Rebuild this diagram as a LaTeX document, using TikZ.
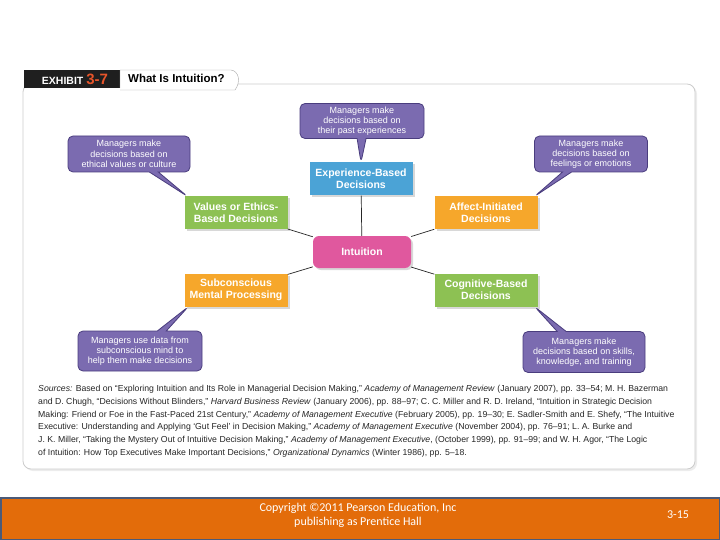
\documentclass[tikz,border=0pt]{standalone}
\usepackage{fontspec}
\setmainfont{Liberation Sans}
\newfontfamily\slidefont{Carlito}
\usetikzlibrary{positioning,shapes.callouts,shadows}
\definecolor{ExBlue}{HTML}{4BA3D6}
\definecolor{ExGreen}{HTML}{8DC153}
\definecolor{ExOrange}{HTML}{F6A72B}
\definecolor{ExPink}{HTML}{E0589E}
\definecolor{NotePurple}{HTML}{7B6BB0}
\definecolor{NoteEdge}{HTML}{4A3D7E}
\definecolor{ExRed}{HTML}{E8552A}
\definecolor{SlideOrange}{HTML}{E36C0A}
\definecolor{SlideEdge}{HTML}{4B5A78}

\begin{document}
\begin{tikzpicture}[x=1pt,y=-1pt,
idea/.style={rectangle,fill=#1,text=white,align=center,minimum width=103pt,minimum height=33pt,inner sep=1pt,font=\bfseries\fontsize{10.5}{12}\selectfont,drop shadow={opacity=0.3,shadow xshift=2pt,shadow yshift=-2pt}},
note/.style={rectangle callout,rounded corners=5pt,draw=NoteEdge,line width=0.8pt,fill=NotePurple,text=white,align=center,inner sep=1pt,minimum width=122pt,minimum height=36pt,callout pointer width=9pt,font=\fontsize{9}{10.3}\selectfont},
link/.style={draw=black!85,line width=0.7pt}]
\useasboundingbox (0,0) rectangle (720,540);
% panel
\draw[draw=black!20,line width=0.8pt,fill=white,rounded corners=8pt,drop shadow={opacity=0.15,shadow xshift=2pt,shadow yshift=-2pt}] (23,84) rectangle (695,469);
\fill[black!88] (24,70) rectangle (120,88);
\draw[draw=black!35,fill=white] (120,88) -- (120,70) -- (231,70) .. controls (239,71) and (241,82) .. (235,90) -- (120,90);
\node[text=white,font=\bfseries\fontsize{10.5}{11}\selectfont,inner sep=0pt] (exh) at (75,79) {EXHIBIT \textcolor{ExRed}{\fontsize{15}{16}\selectfont 3-7}};
\node[font=\bfseries\fontsize{11.5}{12}\selectfont,anchor=west,inner sep=0pt] (ttl) at (128,78) {What Is Intuition?};
% boxes
\node[idea=ExPink,rounded corners=6pt,minimum width=98pt,minimum height=32pt] (int) at (362,252) {Intuition};
\node[idea=ExBlue] (exp) at (361,179) {Experience-Based\\Decisions};
\node[idea=ExGreen] (val) at (236,213) {Values or Ethics-\\Based Decisions};
\node[idea=ExOrange] (aff) at (486,213) {Affect-Initiated\\Decisions};
\node[idea=ExOrange] (sub) at (236,290) {Subconscious\\Mental Processing};
\node[idea=ExGreen] (cog) at (486,290) {Cognitive-Based\\Decisions};
\foreach \x in {exp,val,aff,sub,cog}{\draw[link] (int)--(\x);}
% callouts
\node[note,minimum width=124pt,minimum height=35pt,callout absolute pointer={(exp.north)}] (past) at (362,121) {Managers make\\decisions based on\\their past experiences};
\node[note,callout absolute pointer={([xshift=3pt]val.north west)}] (ethic) at (129,154) {Managers make\\decisions based on\\ethical values or culture};
\node[note,minimum width=113pt,callout absolute pointer={([xshift=-3pt]aff.north east)}] (feel) at (591,154) {Managers make\\decisions based on\\feelings or emotions};
\node[note,minimum width=124pt,minimum height=40pt,callout absolute pointer={([xshift=4pt]sub.south west)}] (data) at (140,351) {Managers use data from\\subconscious mind to\\help them make decisions};
\node[note,minimum height=41pt,callout absolute pointer={([xshift=-3pt]cog.south east)}] (skill) at (584,352) {Managers make\\decisions based on skills,\\knowledge, and training};
% sources
\node[anchor=north west,align=left,inner sep=0pt,text=black!85,font=\fontsize{8.7}{12.8}\selectfont] (src) at (38,385) {\textit{Sources:} Based on ``Exploring Intuition and Its Role in Managerial Decision Making,'' \textit{Academy of Management Review} (January 2007), pp. 33--54; M. H. Bazerman\\
and D. Chugh, ``Decisions Without Blinders,'' \textit{Harvard Business Review} (January 2006), pp. 88--97; C. C. Miller and R. D. Ireland, ``Intuition in Strategic Decision\\
Making: Friend or Foe in the Fast-Paced 21st Century,'' \textit{Academy of Management Executive} (February 2005), pp. 19--30; E. Sadler-Smith and E. Shefy, ``The Intuitive\\
Executive: Understanding and Applying `Gut Feel' in Decision Making,'' \textit{Academy of Management Executive} (November 2004), pp. 76--91; L. A. Burke and\\
J. K. Miller, ``Taking the Mystery Out of Intuitive Decision Making,'' \textit{Academy of Management Executive}, (October 1999), pp. 91--99; and W. H. Agor, ``The Logic\\
of Intuition: How Top Executives Make Important Decisions,'' \textit{Organizational Dynamics} (Winter 1986), pp. 5--18.};
% footer
\draw[draw=SlideEdge,line width=1.5pt,fill=SlideOrange] (0.75,497.75) rectangle (719.25,539.25);
\node[text=white,align=center,font=\slidefont\fontsize{12}{14}\selectfont] (copy) at (358,515) {Copyright \textcopyright2011 Pearson Education, Inc\\publishing as Prentice Hall};
\node[text=white,font=\slidefont\fontsize{12}{14}\selectfont] (page) at (678,515) {3-15};
\end{tikzpicture}
\end{document}
